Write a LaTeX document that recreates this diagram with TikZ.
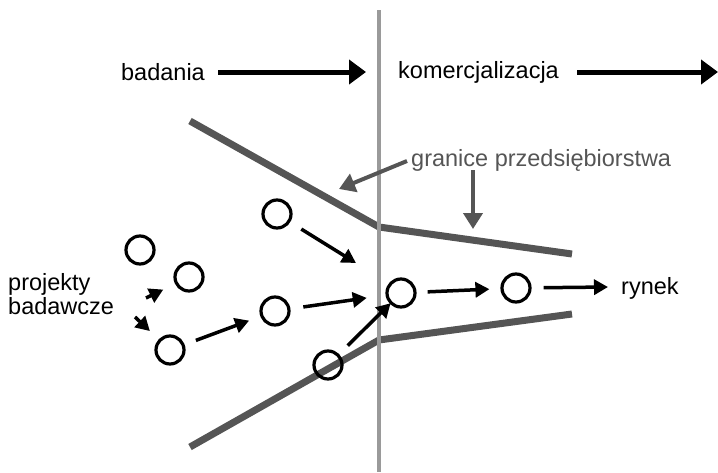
\documentclass[tikz,border=0pt]{standalone}
\usepackage{fontspec}
\setmainfont{Liberation Sans}
\usetikzlibrary{arrows.meta}
\definecolor{bound}{HTML}{555555}
\definecolor{divider}{HTML}{9A9A9A}
\tikzset{
  lbl/.style={font=\fontsize{23.5}{24}\selectfont, inner sep=0pt},
  proj/.style={circle, draw=black, line width=3.2pt, minimum size=28pt, inner sep=0pt},
  bigarr/.style={line width=5pt, -{Triangle[length=17pt,width=24pt]}},
  arr/.style={line width=3.5pt, -{Triangle[length=14pt,width=15pt]}},
  grayarr/.style={draw=bound, line width=4pt, -{Triangle[length=16pt,width=19pt,fill=bound]}},
  boundary/.style={draw=bound, line width=7pt},
}
\begin{document}
\begin{tikzpicture}[x=1pt, y=-1pt]
\useasboundingbox (0,0) rectangle (718,472);

% company boundaries
\coordinate (u1) at (190,121);
\coordinate (u2) at (379,227);
\coordinate (u3) at (572,254);
\coordinate (l1) at (190,447);
\coordinate (l2) at (379,340);
\coordinate (l3) at (572,314);
\draw[boundary] (u1) -- (u2) -- (u3);
\draw[boundary] (l1) -- (l2) -- (l3);

% research / commercialisation divider
\coordinate (vt) at (379,10);
\coordinate (vb) at (379,472);
\draw[divider, line width=4pt] (vt) -- (vb);

% phase labels
\node[lbl] (bad) at (163,72) {badania};
\node[lbl, anchor=west] (kom) at (398,72) {komercjalizacja};
\coordinate (ba1) at (218,72);
\coordinate (ba2) at (366,72);
\coordinate (ka1) at (577,72);
\coordinate (ka2) at (718,72);
\draw[bigarr] (ba1) -- (ba2);
\draw[bigarr] (ka1) -- (ka2);

% boundary label and its pointers
\node[lbl, anchor=west, text=bound] (gr) at (411,160) {granice przedsiębiorstwa};
\coordinate (g1s) at (407,161);
\coordinate (g1e) at (339,189);
\coordinate (g2s) at (473,170);
\coordinate (g2e) at (473,229);
\draw[grayarr] (g1s) -- (g1e);
\draw[grayarr] (g2s) -- (g2e);

% projects
\node[proj] (c1) at (277,214) {};
\node[proj] (c2) at (140,250) {};
\node[proj] (c3) at (189,277) {};
\node[proj] (c4) at (170,350) {};
\node[proj] (c5) at (275,311) {};
\node[proj] (c6) at (328,365) {};
\node[proj] (c7) at (401,293) {};
\node[proj] (c8) at (516,288) {};

\node[lbl, anchor=west, align=left] (pb) at (8,294) {projekty\\badawcze};
\node[lbl, anchor=west] (ryn) at (621,288) {rynek};

% project flow
\coordinate (a1e) at (356,263);
\coordinate (a2s) at (146,298);
\coordinate (a3s) at (135,317);
\coordinate (a8e) at (608,287);
\draw[arr, shorten <=13pt] (c1) -- (a1e);
\draw[arr, shorten >=13pt] (a2s) -- (c3);
\draw[arr, shorten >=12pt] (a3s) -- (c4);
\draw[arr, shorten <=12pt, shorten >=12pt] (c4) -- (c5);
\draw[arr, shorten <=13pt, shorten >=19pt] (c5) -- (c7);
\draw[arr, shorten <=12pt, shorten >=-1pt] (c6) -- (c7);
\draw[arr, shorten <=11pt, shorten >=11pt] (c7) -- (c8);
\draw[arr, shorten <=12pt] (c8) -- (a8e);
\end{tikzpicture}
\end{document}
